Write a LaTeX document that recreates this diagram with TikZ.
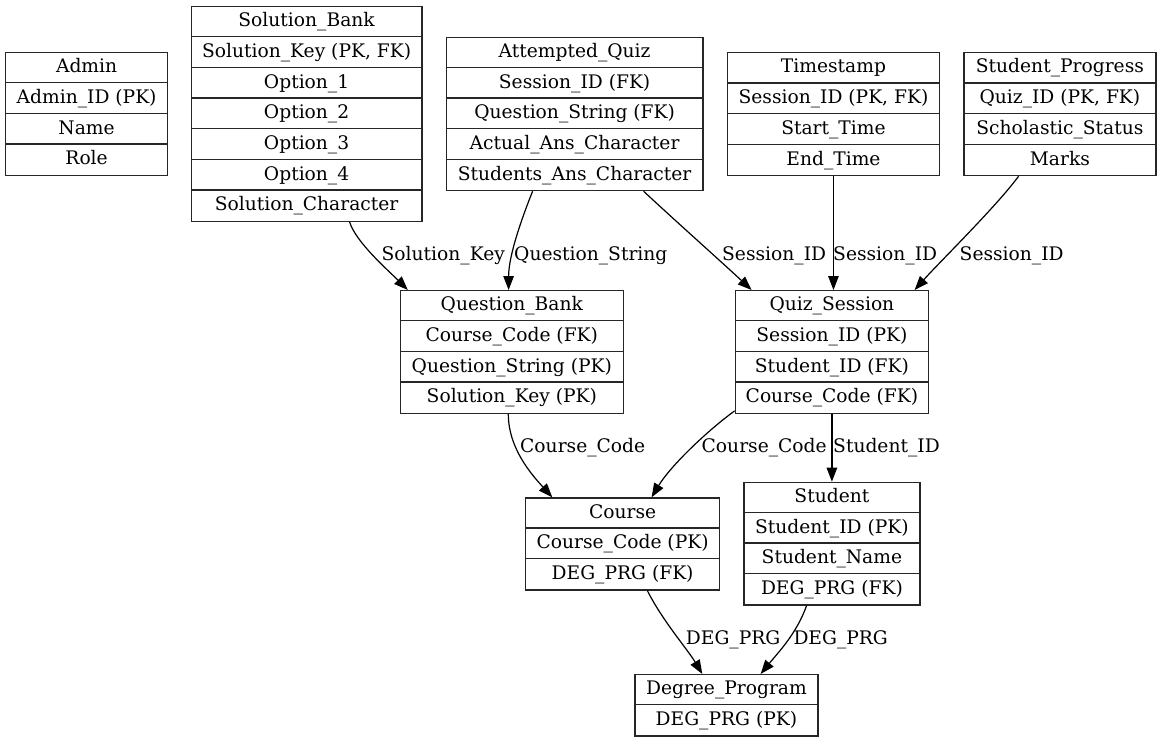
\documentclass[tikz,border=0pt]{standalone}
\usepackage{fontspec}
\setmainfont{DejaVu Serif}
\usetikzlibrary{arrows.meta,calc}
\tikzset{
  x=1pt, y=-1pt,
  tbl/.style={draw=black!85, line width=1.2pt, anchor=north west, inner sep=0pt},
  sepline/.style={draw=black!85, line width=1.2pt},
  rowtxt/.style={anchor=base, inner sep=0pt, font=\fontsize{18.67}{22}\selectfont},
  lbl/.style={anchor=base west, inner sep=0pt, font=\fontsize{18.67}{22}\selectfont},
  rel/.style={-{Triangle[length=14pt,width=10.5pt]}, line width=1.2pt, black},
}
\newcommand\erbox[6]{%
  \node[tbl, minimum width=#4pt, minimum height=#5*30.67pt] (#1) at (#2,#3) {};
  \foreach \r [count=\i from 0] in {#6} {
    \node[rowtxt] (#1-\i) at ($(#1.north)+(0,30.67*\i+20.7)$) {\r};
    \ifnum\i>0
      \draw[sepline] ($(#1.north west)+(0,30.67*\i)$) -- ($(#1.north east)+(0,30.67*\i)$);
    \fi
  }
}
\begin{document}
\begin{tikzpicture}
\fill[white] (0,0) rectangle (1161,741);
\useasboundingbox (0,0) rectangle (1161,741);

\erbox{ad}{5}{52}{162}{4}{{Admin},{Admin\_ID (PK)},{Name},{Role}}
\erbox{sb}{190.7}{6}{230.6}{7}{{Solution\_Bank},{Solution\_Key (PK, FK)},{Option\_1},{Option\_2},{Option\_3},{Option\_4},{Solution\_Character}}
\erbox{aq}{445.7}{36.7}{256.6}{5}{{Attempted\_Quiz},{Session\_ID (FK)},{Question\_String (FK)},{Actual\_Ans\_Character},{Students\_Ans\_Character}}
\erbox{ts}{726.7}{52.3}{212.3}{4}{{Timestamp},{Session\_ID (PK, FK)},{Start\_Time},{End\_Time}}
\erbox{sp}{963.3}{52.3}{192}{4}{{Student\_Progress},{Quiz\_ID (PK, FK)},{Scholastic\_Status},{Marks}}
\erbox{qb}{399.7}{290}{223}{4}{{Question\_Bank},{Course\_Code (FK)},{Question\_String (PK)},{Solution\_Key (PK)}}
\erbox{qs}{734.6}{290}{193.4}{4}{{Quiz\_Session},{Session\_ID (PK)},{Student\_ID (FK)},{Course\_Code (FK)}}
\erbox{co}{525}{497.3}{194}{3}{{Course},{Course\_Code (PK)},{DEG\_PRG (FK)}}
\erbox{st}{743.3}{481.7}{176}{4}{{Student},{Student\_ID (PK)},{Student\_Name},{DEG\_PRG (FK)}}
\erbox{dp}{634.3}{674}{183}{2}{{Degree\_Program},{DEG\_PRG (PK)}}

% connectors
\draw[rel] ([xshift=43pt]sb.south) .. controls +(6,20) and +(-20,-20) .. ([xshift=-104pt]qb.north);
\draw[rel] ([xshift=-42pt]aq.south) .. controls +(-10,25) and +(0,-35) .. ([xshift=-3.2pt]qb.north);
\draw[rel] ([xshift=69pt]aq.south) .. controls +(30,28) and +(-30,-28) .. ([xshift=-80.3pt]qs.north);
\draw[rel] (ts.south) -- (ts.south |- qs.north);
\draw[rel] ([xshift=-41.3pt]sp.south) .. controls +(-22,30) and +(25,-28) .. ([xshift=82.7pt]qs.north);
\draw[rel] ([xshift=-3.5pt]qb.south) .. controls +(0,35) and +(-20,-22) .. ([xshift=-70.3pt]co.north);
\draw[rel] ([yshift=3pt]qs.south west) .. controls +(-30,22) and +(18,-30) .. ([xshift=29pt]co.north);
\draw[rel] (qs.south) -- (st.north);
\draw[rel] ([xshift=24.7pt]co.south) .. controls +(15,30) and +(-15,-25) .. ([xshift=-24.1pt]dp.north);
\draw[rel] ([xshift=-25.3pt]st.south) .. controls +(-10,28) and +(18,-22) .. ([xshift=34.2pt]dp.north);

% connector labels
\node[lbl] (l1) at (381.5,260.5) {Solution\_Key};
\node[lbl] (l2) at (514,260.5) {Question\_String};
\node[lbl] (l3) at (722,260.5) {Session\_ID};
\node[lbl] (l4) at (833,260.5) {Session\_ID};
\node[lbl] (l5) at (959.5,260.5) {Session\_ID};
\node[lbl] (l6) at (520,452.3) {Course\_Code};
\node[lbl] (l7) at (701.5,452.3) {Course\_Code};
\node[lbl] (l8) at (833,452.3) {Student\_ID};
\node[lbl] (l9) at (685.7,644.3) {DEG\_PRG};
\node[lbl] (l10) at (793.3,644.3) {DEG\_PRG};
\end{tikzpicture}
\end{document}
